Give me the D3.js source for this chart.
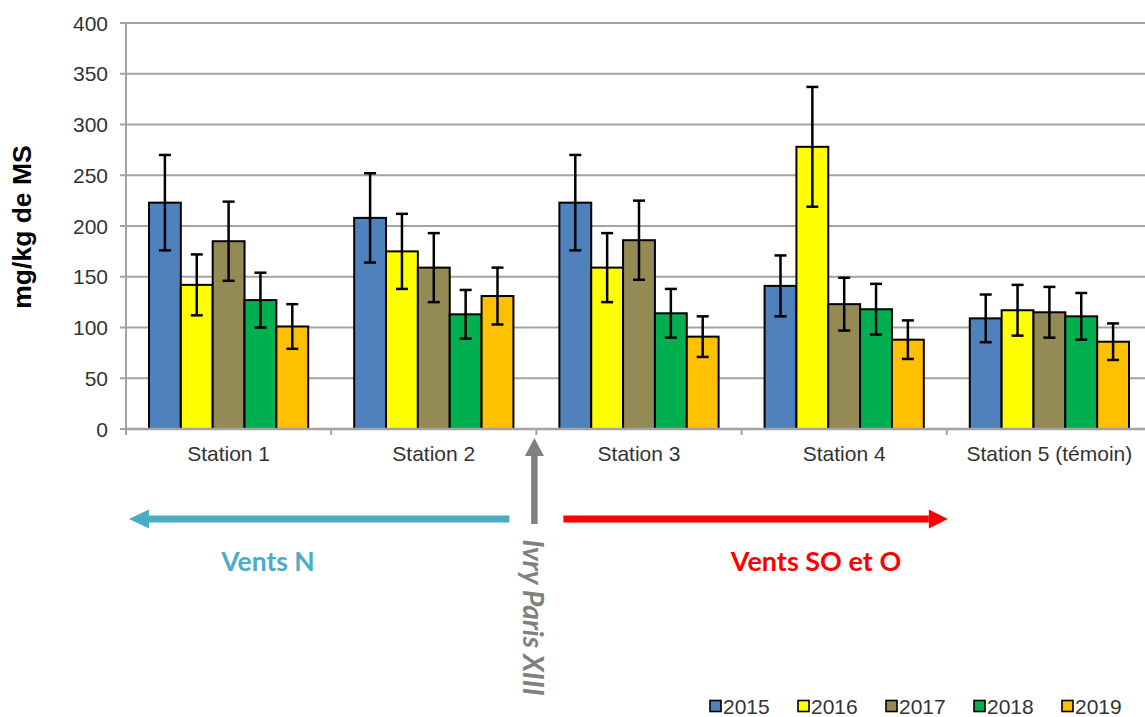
<!DOCTYPE html>
<html>
<head>
<meta charset="utf-8">
<script src="https://cdn.jsdelivr.net/npm/d3@7"></script>
<style>
  html, body { margin: 0; padding: 0; background: #fff; }
  svg { display: block; }
  .tick-label { font-family: "Liberation Sans", Arial, sans-serif; font-size: 21px; fill: #333; }
</style>
</head>
<body>
<svg id="chart" width="1145" height="717"></svg>
<script>
// Stations along the x axis
const stations = ["Station 1", "Station 2", "Station 3", "Station 4", "Station 5 (témoin)"];
// Sampling years (one bar per year inside each station)
const years = ["2015", "2016", "2017", "2018", "2019"];
const yearColors = ["#4F81BD", "#FFFF00", "#948A54", "#00B050", "#FFC000"];

// Mean concentration (mg/kg de MS) per year, in station order
const values2015 = [223, 208, 223, 141, 109];
const values2016 = [142, 175, 159, 278, 117];
const values2017 = [185, 159, 186, 123, 115];
const values2018 = [127, 113, 114, 118, 111];
const values2019 = [101, 131, 91, 88, 86];

// Half-width of the error bar per year, in station order
const err2015 = [47, 44, 47, 30, 23.5];
const err2016 = [30, 37, 34, 59, 25];
const err2017 = [39, 34, 39, 26, 25];
const err2018 = [27, 24, 24, 25, 23];
const err2019 = [22, 28, 20, 19, 18];

const yTicks = [0, 50, 100, 150, 200, 250, 300, 350, 400];
const yTitle = "mg/kg de MS";

const seriesValues = [values2015, values2016, values2017, values2018, values2019];
const seriesErrors = [err2015, err2016, err2017, err2018, err2019];

const svg = d3.select("#chart");

const plotLeft = 126, plotRight = 1152, plotTop = 23, plotBottom = 429;

const y = d3.scaleLinear().domain([0, 400]).range([plotBottom, plotTop]);
const x0 = d3.scaleBand().domain(stations).range([plotLeft, plotRight])
  .paddingInner(0.224).paddingOuter(0.112);
const x1 = d3.scaleBand().domain(years).range([0, x0.bandwidth()]);
const color = d3.scaleOrdinal().domain(years).range(yearColors);

// Horizontal gridlines with small ticks on the left of the value axis
const grid = svg.append("g");
grid.selectAll("line").data(yTicks).join("line")
  .attr("x1", plotLeft - 6).attr("x2", plotRight)
  .attr("y1", d => y(d)).attr("y2", d => y(d))
  .attr("stroke", "#a3a3a3").attr("stroke-width", 2);

// Value axis
svg.append("line")
  .attr("x1", plotLeft).attr("x2", plotLeft)
  .attr("y1", plotTop).attr("y2", plotBottom)
  .attr("stroke", "#a3a3a3").attr("stroke-width", 2);

svg.append("g").selectAll("text").data(yTicks).join("text")
  .attr("class", "tick-label")
  .attr("x", plotLeft - 18).attr("y", d => y(d))
  .attr("dy", "0.36em").attr("text-anchor", "end")
  .text(d => d);

svg.append("text")
  .attr("transform", `translate(31,${(plotTop + plotBottom) / 2 + 1}) rotate(-90)`)
  .attr("text-anchor", "middle")
  .style("font-family", "'Liberation Sans', Arial, sans-serif")
  .style("font-weight", "bold").style("font-size", "26.5px").style("fill", "#000")
  .text(yTitle);

// Rows of bars: one group per year, one bar per station
const rows = stations.map((s, i) => years.map((yr, j) => ({
  station: s, year: yr, value: seriesValues[j][i], err: seriesErrors[j][i]
}))).flat();

const bars = svg.append("g");
bars.selectAll("rect").data(rows).join("rect")
  .attr("x", d => x0(d.station) + x1(d.year))
  .attr("y", d => y(d.value))
  .attr("width", x1.bandwidth())
  .attr("height", d => y(0) - y(d.value))
  .attr("fill", d => color(d.year))
  .attr("stroke", "#000").attr("stroke-width", 2);

// Category axis line and boundary ticks
const step = x0.step();
const boundaries = d3.range(stations.length + 1).map(i => plotLeft + i * step);
svg.append("line")
  .attr("x1", plotLeft).attr("x2", plotRight)
  .attr("y1", plotBottom).attr("y2", plotBottom)
  .attr("stroke", "#a3a3a3").attr("stroke-width", 2.5);
svg.append("g").selectAll("line").data(boundaries).join("line")
  .attr("x1", d => d).attr("x2", d => d)
  .attr("y1", plotBottom).attr("y2", plotBottom + 6)
  .attr("stroke", "#a3a3a3").attr("stroke-width", 2);

svg.append("g").selectAll("text").data(stations).join("text")
  .attr("class", "tick-label")
  .attr("x", d => x0(d) + x0.bandwidth() / 2)
  .attr("y", 461)
  .attr("text-anchor", "middle")
  .text(d => d);

// Error bars
const eb = svg.append("g").attr("stroke", "#000").attr("stroke-width", 2.5);
const cx = d => x0(d.station) + x1(d.year) + x1.bandwidth() / 2;
eb.selectAll("line.v").data(rows).join("line").attr("class", "v")
  .attr("x1", cx).attr("x2", cx)
  .attr("y1", d => y(d.value + d.err)).attr("y2", d => y(d.value - d.err));
eb.selectAll("line.t").data(rows).join("line").attr("class", "t")
  .attr("x1", d => cx(d) - 6).attr("x2", d => cx(d) + 6)
  .attr("y1", d => y(d.value + d.err)).attr("y2", d => y(d.value + d.err));
eb.selectAll("line.b").data(rows).join("line").attr("class", "b")
  .attr("x1", d => cx(d) - 6).attr("x2", d => cx(d) + 6)
  .attr("y1", d => y(d.value - d.err)).attr("y2", d => y(d.value - d.err));

// Plant location marker between Station 2 and Station 3
const plantX = boundaries[2];
const arrowY = 519;

function arrow(x1a, y1a, x2a, y2a, col, width, headLen, headHalf) {
  const ang = Math.atan2(y2a - y1a, x2a - x1a);
  const bx = x2a - headLen * Math.cos(ang), by = y2a - headLen * Math.sin(ang);
  svg.append("line")
    .attr("x1", x1a).attr("y1", y1a).attr("x2", bx).attr("y2", by)
    .attr("stroke", col).attr("stroke-width", width);
  const px = -Math.sin(ang) * headHalf, py = Math.cos(ang) * headHalf;
  svg.append("path")
    .attr("d", `M${x2a},${y2a}L${bx + px},${by + py}L${bx - px},${by - py}Z`)
    .attr("fill", col);
}

arrow(plantX - 2, 524, plantX - 2, 438, "#808080", 6.5, 18, 9.5);
arrow(plantX - 27, arrowY, plotLeft + 3, arrowY, "#4BACC6", 7, 20, 9.5);
arrow(plantX + 27, arrowY, boundaries[4] + 1, arrowY, "#FF0000", 7, 19, 9.5);

svg.append("text")
  .attr("x", 268).attr("y", 571).attr("text-anchor", "middle")
  .style("font-family", "Lato, 'Open Sans', sans-serif").style("font-weight", "bold")
  .style("font-size", "26.5px").style("fill", "#4BACC6")
  .text("Vents N");

svg.append("text")
  .attr("x", 816).attr("y", 571).attr("text-anchor", "middle")
  .style("font-family", "Lato, 'Open Sans', sans-serif").style("font-weight", "bold")
  .style("font-size", "27px").style("fill", "#FF0000")
  .text("Vents SO et O");

svg.append("text")
  .attr("transform", `translate(${plantX - 13},617.5) rotate(90)`)
  .attr("text-anchor", "middle")
  .style("font-family", "Lato, 'Open Sans', sans-serif").style("font-weight", "bold")
  .style("font-style", "italic")
  .style("font-size", "28px").style("fill", "#808080")
  .text("Ivry Paris XIII");

// Legend
const legend = svg.append("g");
const legendX = d3.scaleBand().domain(years).range([710, 1150]);
const items = legend.selectAll("g").data(years).join("g")
  .attr("transform", d => `translate(${legendX(d)},706)`);
items.append("rect")
  .attr("x", 0).attr("y", -5.5).attr("width", 11).attr("height", 11)
  .attr("fill", d => color(d)).attr("stroke", "#000").attr("stroke-width", 1.6);
items.append("text")
  .attr("class", "tick-label")
  .attr("x", 13).attr("dy", "0.36em")
  .text(d => d);
</script>
</body>
</html>
